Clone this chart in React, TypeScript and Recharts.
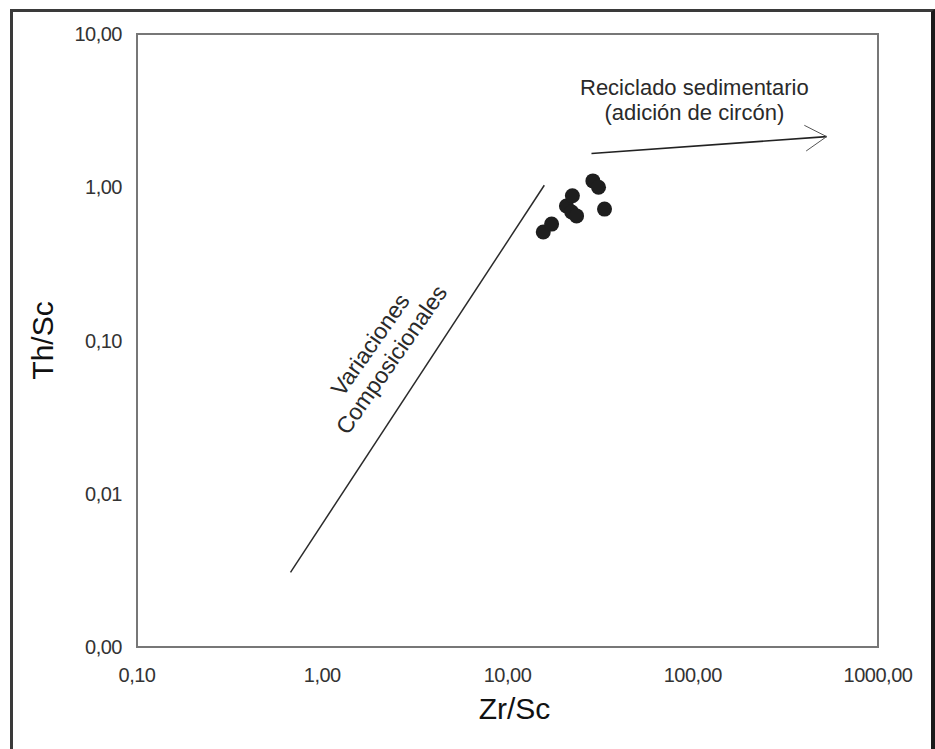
import { ReferenceArea, ReferenceDot, ReferenceLine, Scatter, ScatterChart, XAxis, YAxis } from "recharts";

// Zr/Sc vs Th/Sc for each sample
const zrSc = [15.6, 17.3, 20.8, 22.4, 22.2, 23.6, 28.9, 31.0, 33.4];
const thSc = [0.51, 0.575, 0.755, 0.88, 0.69, 0.65, 1.1, 1.0, 0.72];

const xTicks = [0.1, 1, 10, 100, 1000];
const yTicks = [0.001, 0.01, 0.1, 1, 10];

// trend lines (Zr/Sc, Th/Sc)
const compositionalTrend = [{ x: 0.674, y: 0.00307 }, { x: 15.8, y: 1.03 }];
const recyclingTrend = [{ x: 28.4, y: 1.66 }, { x: 528, y: 2.14 }];

// where the annotations sit, in data units
const compositionalLabelAt = { x: 2.07, y: 0.084 };
const recyclingLabelAt = { x: 102, y: 3.34 };

const samples = zrSc.map((x, i) => ({ x, y: thSc[i] }));

const FONT = '"Liberation Sans", Arial, sans-serif';
const fmt = (v: number) => v.toFixed(2).replace(".", ",");
const tickStyle = { fill: "#333", fontSize: 20, letterSpacing: -0.5 };

function Dot(props: any) {
  return <circle cx={props.cx} cy={props.cy} r={7.5} fill="#1e1e1e" />;
}

function Arrow(props: any) {
  const { x1, y1, x2, y2 } = props;
  const a = Math.atan2(y1 - y2, x1 - x2);
  const len = 25;
  const spread = (31 * Math.PI) / 180;
  const p1 = [x2 + len * Math.cos(a + spread), y2 + len * Math.sin(a + spread)];
  const p2 = [x2 + len * Math.cos(a - spread), y2 + len * Math.sin(a - spread)];
  return (
    <g>
      <line x1={x1} y1={y1} x2={x2} y2={y2} stroke="#222" strokeWidth={1.6} />
      <polyline
        points={`${p1[0]},${p1[1]} ${x2},${y2} ${p2[0]},${p2[1]}`}
        fill="none"
        stroke="#555"
        strokeWidth={1}
      />
    </g>
  );
}

function CompositionalLabel(props: any) {
  const { cx, cy } = props;
  return (
    <g transform={`rotate(-55, ${cx}, ${cy})`} fontFamily={FONT} fontSize={23} fill="#2a2a2a">
      <text x={cx} y={cy - 13} textAnchor="middle" dominantBaseline="central">Variaciones</text>
      <text x={cx} y={cy + 13} textAnchor="middle" dominantBaseline="central">Composicionales</text>
    </g>
  );
}

function RecyclingLabel(props: any) {
  const { cx, cy } = props;
  return (
    <g fontFamily={FONT} fontSize={22} fill="#2a2a2a">
      <text x={cx} y={cy - 12} textAnchor="middle">Reciclado sedimentario</text>
      <text x={cx} y={cy + 13} textAnchor="middle">(adición de circón)</text>
    </g>
  );
}

export default function App() {
  return (
    <div style={{ position: "absolute", left: 0, top: 0, width: 935, height: 749, background: "#fff", overflow: "hidden" }}>
      <div
        style={{
          position: "absolute",
          left: 10,
          top: 9,
          right: 0,
          bottom: -10,
          borderLeft: "3px solid #3a3a3a",
          borderTop: "3px solid #3a3a3a",
          borderRight: "4px solid #1a1a1a",
        }}
      />
      <ScatterChart
        width={935}
        height={749}
        margin={{ top: 34, right: 57, bottom: 0, left: 0 }}
        style={{ position: "absolute", left: 0, top: 0, fontFamily: FONT }}
      >
        <XAxis
          dataKey="x"
          type="number"
          scale="log"
          domain={[0.1, 1000]}
          ticks={xTicks}
          interval={0}
          allowDataOverflow
          tickFormatter={fmt}
          axisLine={false}
          tickLine={false}
          tickSize={0}
          tickMargin={21}
          height={102}
          tick={tickStyle}
          label={{ value: "Zr/Sc", position: "insideBottom", offset: 30, dx: 7, fill: "#111", fontSize: 30 }}
        />
        <YAxis
          dataKey="y"
          type="number"
          scale="log"
          domain={[0.001, 10]}
          ticks={yTicks}
          interval={0}
          allowDataOverflow
          tickFormatter={fmt}
          axisLine={false}
          tickLine={false}
          tickSize={0}
          tickMargin={15}
          width={137}
          tick={tickStyle}
          label={{
            value: "Th/Sc",
            angle: -90,
            position: "insideLeft",
            offset: 42,
            fill: "#111",
            fontSize: 30,
            style: { textAnchor: "middle" },
          }}
        />
        <ReferenceArea x1={0.1} x2={1000} y1={0.001} y2={10} fill="none" stroke="#777" strokeWidth={2} />
        <ReferenceLine
          segment={compositionalTrend}
          stroke="#2a2a2a"
          strokeWidth={1.5}
        />
        <ReferenceLine segment={recyclingTrend} shape={Arrow} />
        <ReferenceDot x={compositionalLabelAt.x} y={compositionalLabelAt.y} shape={CompositionalLabel} />
        <ReferenceDot x={recyclingLabelAt.x} y={recyclingLabelAt.y} shape={RecyclingLabel} />
        <Scatter data={samples} shape={Dot} isAnimationActive={false} />
      </ScatterChart>
    </div>
  );
}
